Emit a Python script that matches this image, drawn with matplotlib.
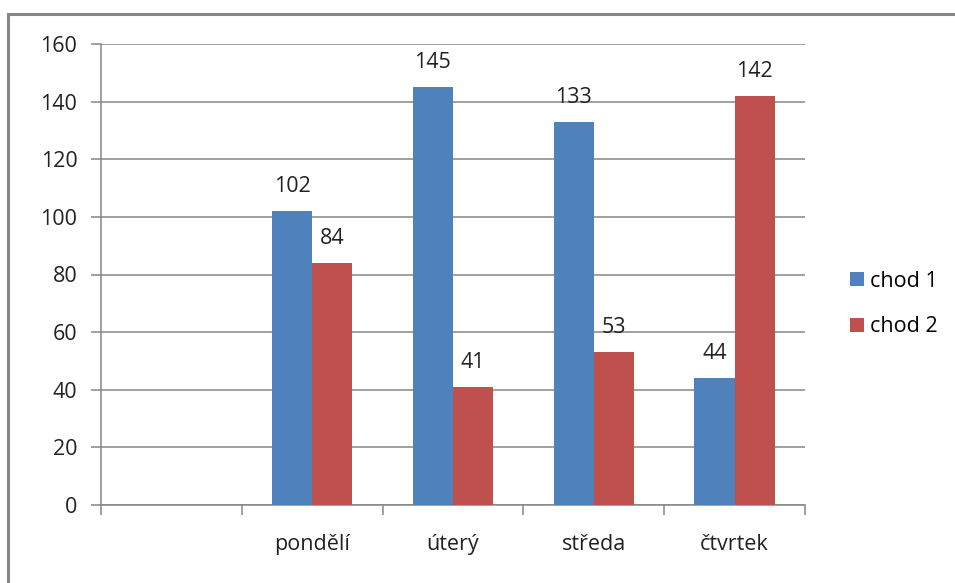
import numpy as np
import matplotlib.pyplot as plt
from matplotlib.patches import Rectangle

# days of the week, first slot is empty
days = ['', 'pondělí', 'úterý', 'středa', 'čtvrtek']
chod1 = [np.nan, 102, 145, 133, 44]
chod2 = [np.nan, 84, 41, 53, 142]

blue = '#4F81BD'
red = '#C0504D'
grey = '#868686'

plt.rcParams['font.family'] = ['Open Sans', 'DejaVu Sans']
plt.rcParams['font.size'] = 15.5

fig = plt.figure(figsize=(9.55, 5.83), dpi=100)
ax = fig.add_axes([101 / 955, 1 - 505 / 583, 704 / 955, 461 / 583])

# outer chart frame, runs off the right and bottom edges
fig.patches.append(Rectangle((8 / 955, -0.05), 1.1, 1 - 14 / 583 + 0.05,
                             transform=fig.transFigure, fill=False,
                             edgecolor=grey, lw=2.2))

x = np.arange(len(days))
w = 0.2857
b1 = ax.bar(x - w / 2, chod1, w, color=blue, label='chod 1', zorder=3)
b2 = ax.bar(x + w / 2, chod2, w, color=red, label='chod 2', zorder=3)
for bars, vals in ((b1, chod1), (b2, chod2)):
    labels = ['' if np.isnan(v) else f'{v:g}' for v in vals]
    ax.bar_label(bars, labels=labels, padding=10, color='#222222')

ax.set_xlim(-0.5, len(days) - 0.5)
ax.set_ylim(0, 160)
ax.set_yticks(np.arange(0, 161, 20))
ax.yaxis.grid(True, color=grey, lw=1.1, zorder=0)
ax.set_axisbelow(True)

ax.set_xticks(x)
ax.set_xticklabels(days)
ax.set_xticks(np.arange(-0.5, len(days)), minor=True)
ax.tick_params(axis='x', which='major', length=0, pad=21)
ax.tick_params(axis='x', which='minor', length=7, color=grey, width=1.1)
ax.tick_params(axis='y', length=7, color=grey, width=1.1, pad=10)
ax.tick_params(labelcolor='#222222')

for s in ('top', 'right'):
    ax.spines[s].set_visible(False)
for s in ('left', 'bottom'):
    ax.spines[s].set_color(grey)
    ax.spines[s].set_linewidth(1.1)

ax.legend(loc='center left', bbox_to_anchor=(841 / 955, 1 - 304 / 583),
          bbox_transform=fig.transFigure, frameon=False,
          handlelength=0.65, handleheight=0.65, handletextpad=0.3,
          labelspacing=1.15, borderaxespad=0)

fig.savefig('out.png', dpi=100)
